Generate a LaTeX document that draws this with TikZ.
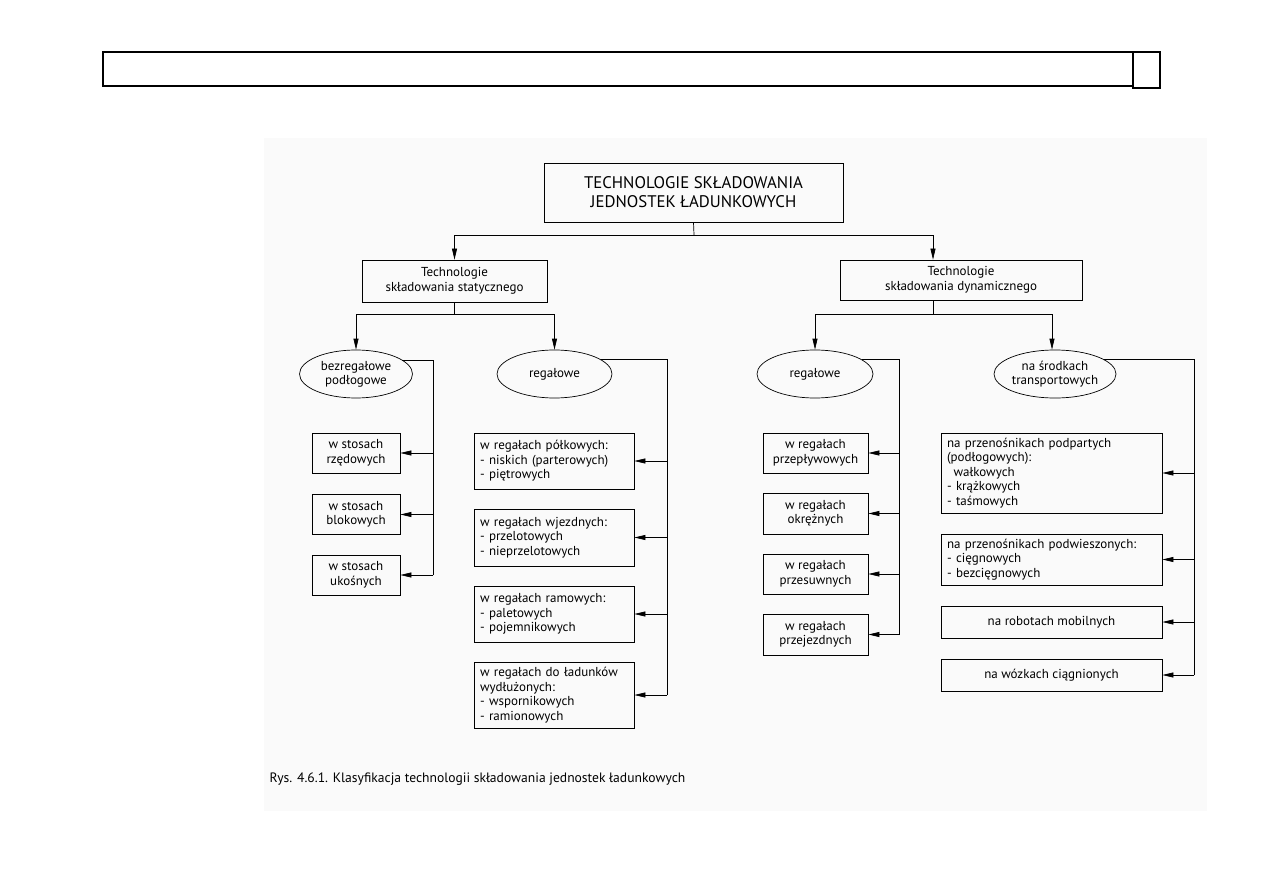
\documentclass[tikz,border=0pt]{standalone}
\usepackage{fontspec}
\setmainfont{PT Sans}
\usetikzlibrary{arrows.meta,shapes.geometric}
\begin{document}
\begin{tikzpicture}[x=1pt,y=-1pt,line width=0.7pt,
  box/.style={draw,rectangle,inner sep=0pt,align=center,
    font=\fontsize{13}{14.5}\selectfont},
  listbox/.style={box,align=left,inner xsep=6pt,text width=#1},
  oval/.style={draw,ellipse,inner sep=0pt,align=center,
    font=\fontsize{13}{14}\selectfont},
  arr/.style={-{Triangle[length=11pt,width=5pt]}}]
 \useasboundingbox (0,0) rectangle (1263,893);
 % scanned page: header frame and the light sheet of the figure
 \draw[line width=1.4pt] (103,52) rectangle (1133,86);
 \draw[line width=1.4pt] (1133,52) rectangle (1160,88);
 \fill[black!2] (264,138) rectangle (1207,811);

 \node[box,minimum width=299,minimum height=59,
   font=\fontsize{16.8}{19}\selectfont] (title) at (693.5,192.5)
   {TECHNOLOGIE SKŁADOWANIA\\JEDNOSTEK ŁADUNKOWYCH};
 \node[box,minimum width=185,minimum height=42] (stat) at (454.5,281)
   {Technologie\\składowania statycznego};
 \node[box,minimum width=242,minimum height=40] (dyn) at (961,280)
   {Technologie\\składowania dynamicznego};

 \node[oval,minimum width=113,minimum height=48] (e1) at (356,374) {bezregałowe\\podłogowe};
 \node[oval,minimum width=115,minimum height=48] (e2) at (554.5,374) {regałowe};
 \node[oval,minimum width=116,minimum height=48] (e3) at (815,374) {regałowe};
 \node[oval,minimum width=106,minimum height=48] (e4) at (1055,374) {na środkach\\transportowych};

 % stacks
 \node[box,minimum width=88,minimum height=40] (s1) at (356,453) {w stosach\\rzędowych};
 \node[box,minimum width=88,minimum height=40] (s2) at (356,514.5) {w stosach\\blokowych};
 \node[box,minimum width=88,minimum height=40] (s3) at (356,575) {w stosach\\ukośnych};

 % static racks
 \node[listbox=148,minimum height=56] (r1) at (554,461)
   {w regałach półkowych:\\- niskich (parterowych)\\- piętrowych};
 \node[listbox=148,minimum height=57] (r2) at (554,537.5)
   {w regałach wjezdnych:\\- przelotowych\\- nieprzelotowych};
 \node[listbox=148,minimum height=56] (r3) at (554,614)
   {w regałach ramowych:\\- paletowych\\- pojemnikowych};
 \node[listbox=148,minimum height=66] (r4) at (554,695)
   {w regałach do ładunków\\wydłużonych:\\- wspornikowych\\- ramionowych};

 % dynamic racks
 \node[box,minimum width=105,minimum height=40] (d1) at (815.5,453) {w regałach\\przepływowych};
 \node[box,minimum width=105,minimum height=41] (d2) at (815.5,513.5) {w regałach\\okrężnych};
 \node[box,minimum width=105,minimum height=40] (d3) at (815.5,574) {w regałach\\przesuwnych};
 \node[box,minimum width=105,minimum height=41] (d4) at (815.5,634.5) {w regałach\\przejezdnych};

 % transport means
 \node[listbox=209,minimum height=80] (t1) at (1051.5,473)
   {na przenośnikach podpartych\\(podłogowych):\\\hspace*{0.5em}wałkowych\\- krążkowych\\- taśmowych};
 \node[listbox=209,minimum height=51] (t2) at (1051.5,559.5)
   {na przenośnikach podwieszonych:\\- cięgnowych\\- bezcięgnowych};
 \node[box,minimum width=221,minimum height=32] (t3) at (1051.5,622) {na robotach mobilnych};
 \node[box,minimum width=221,minimum height=32] (t4) at (1051.5,675) {na wózkach ciągnionych};

 \node[anchor=west,font=\fontsize{13.6}{16}\selectfont] (cap) at (266,779)
   {Rys. 4.6.1. Klasyfikacja technologii składowania jednostek ładunkowych};

 % tree
 \coordinate (tj) at (694,235);
 \draw (title.south) -- (tj);
 \draw[arr] (tj) -| (stat.north);
 \draw[arr] (tj) -| ([xshift=-28pt]dyn.north);
 \coordinate (sj) at (454.5,314);
 \draw (stat.south) -- (sj);
 \draw[arr] (sj) -| (e1.north);
 \draw[arr] (sj) -| (e2.north);
 \coordinate (dj) at (933,314);
 \draw ([xshift=-28pt]dyn.south) -- (dj);
 \draw[arr] (dj) -| (e3.north);
 \draw[arr] (dj) -| ([xshift=-3pt]e4.north);

 % side buses
 \draw (e1.17) -| ([xshift=33pt]s3.east);
 \foreach \n in {s1,s2,s3} \draw[arr] ([xshift=33pt]\n.east) -- (\n.east);
 \draw (e2.17) -| ([xshift=33pt]r4.east);
 \foreach \n in {r1,r2,r3,r4} \draw[arr] ([xshift=33pt]\n.east) -- (\n.east);
 \draw (e3.17) -| ([xshift=31pt]d4.east);
 \foreach \n in {d1,d2,d3,d4} \draw[arr] ([xshift=31pt]\n.east) -- (\n.east);
 \draw (e4.17) -| ([xshift=32pt]t4.east);
 \foreach \n in {t1,t2,t3,t4} \draw[arr] ([xshift=32pt]\n.east) -- (\n.east);
\end{tikzpicture}
\end{document}
